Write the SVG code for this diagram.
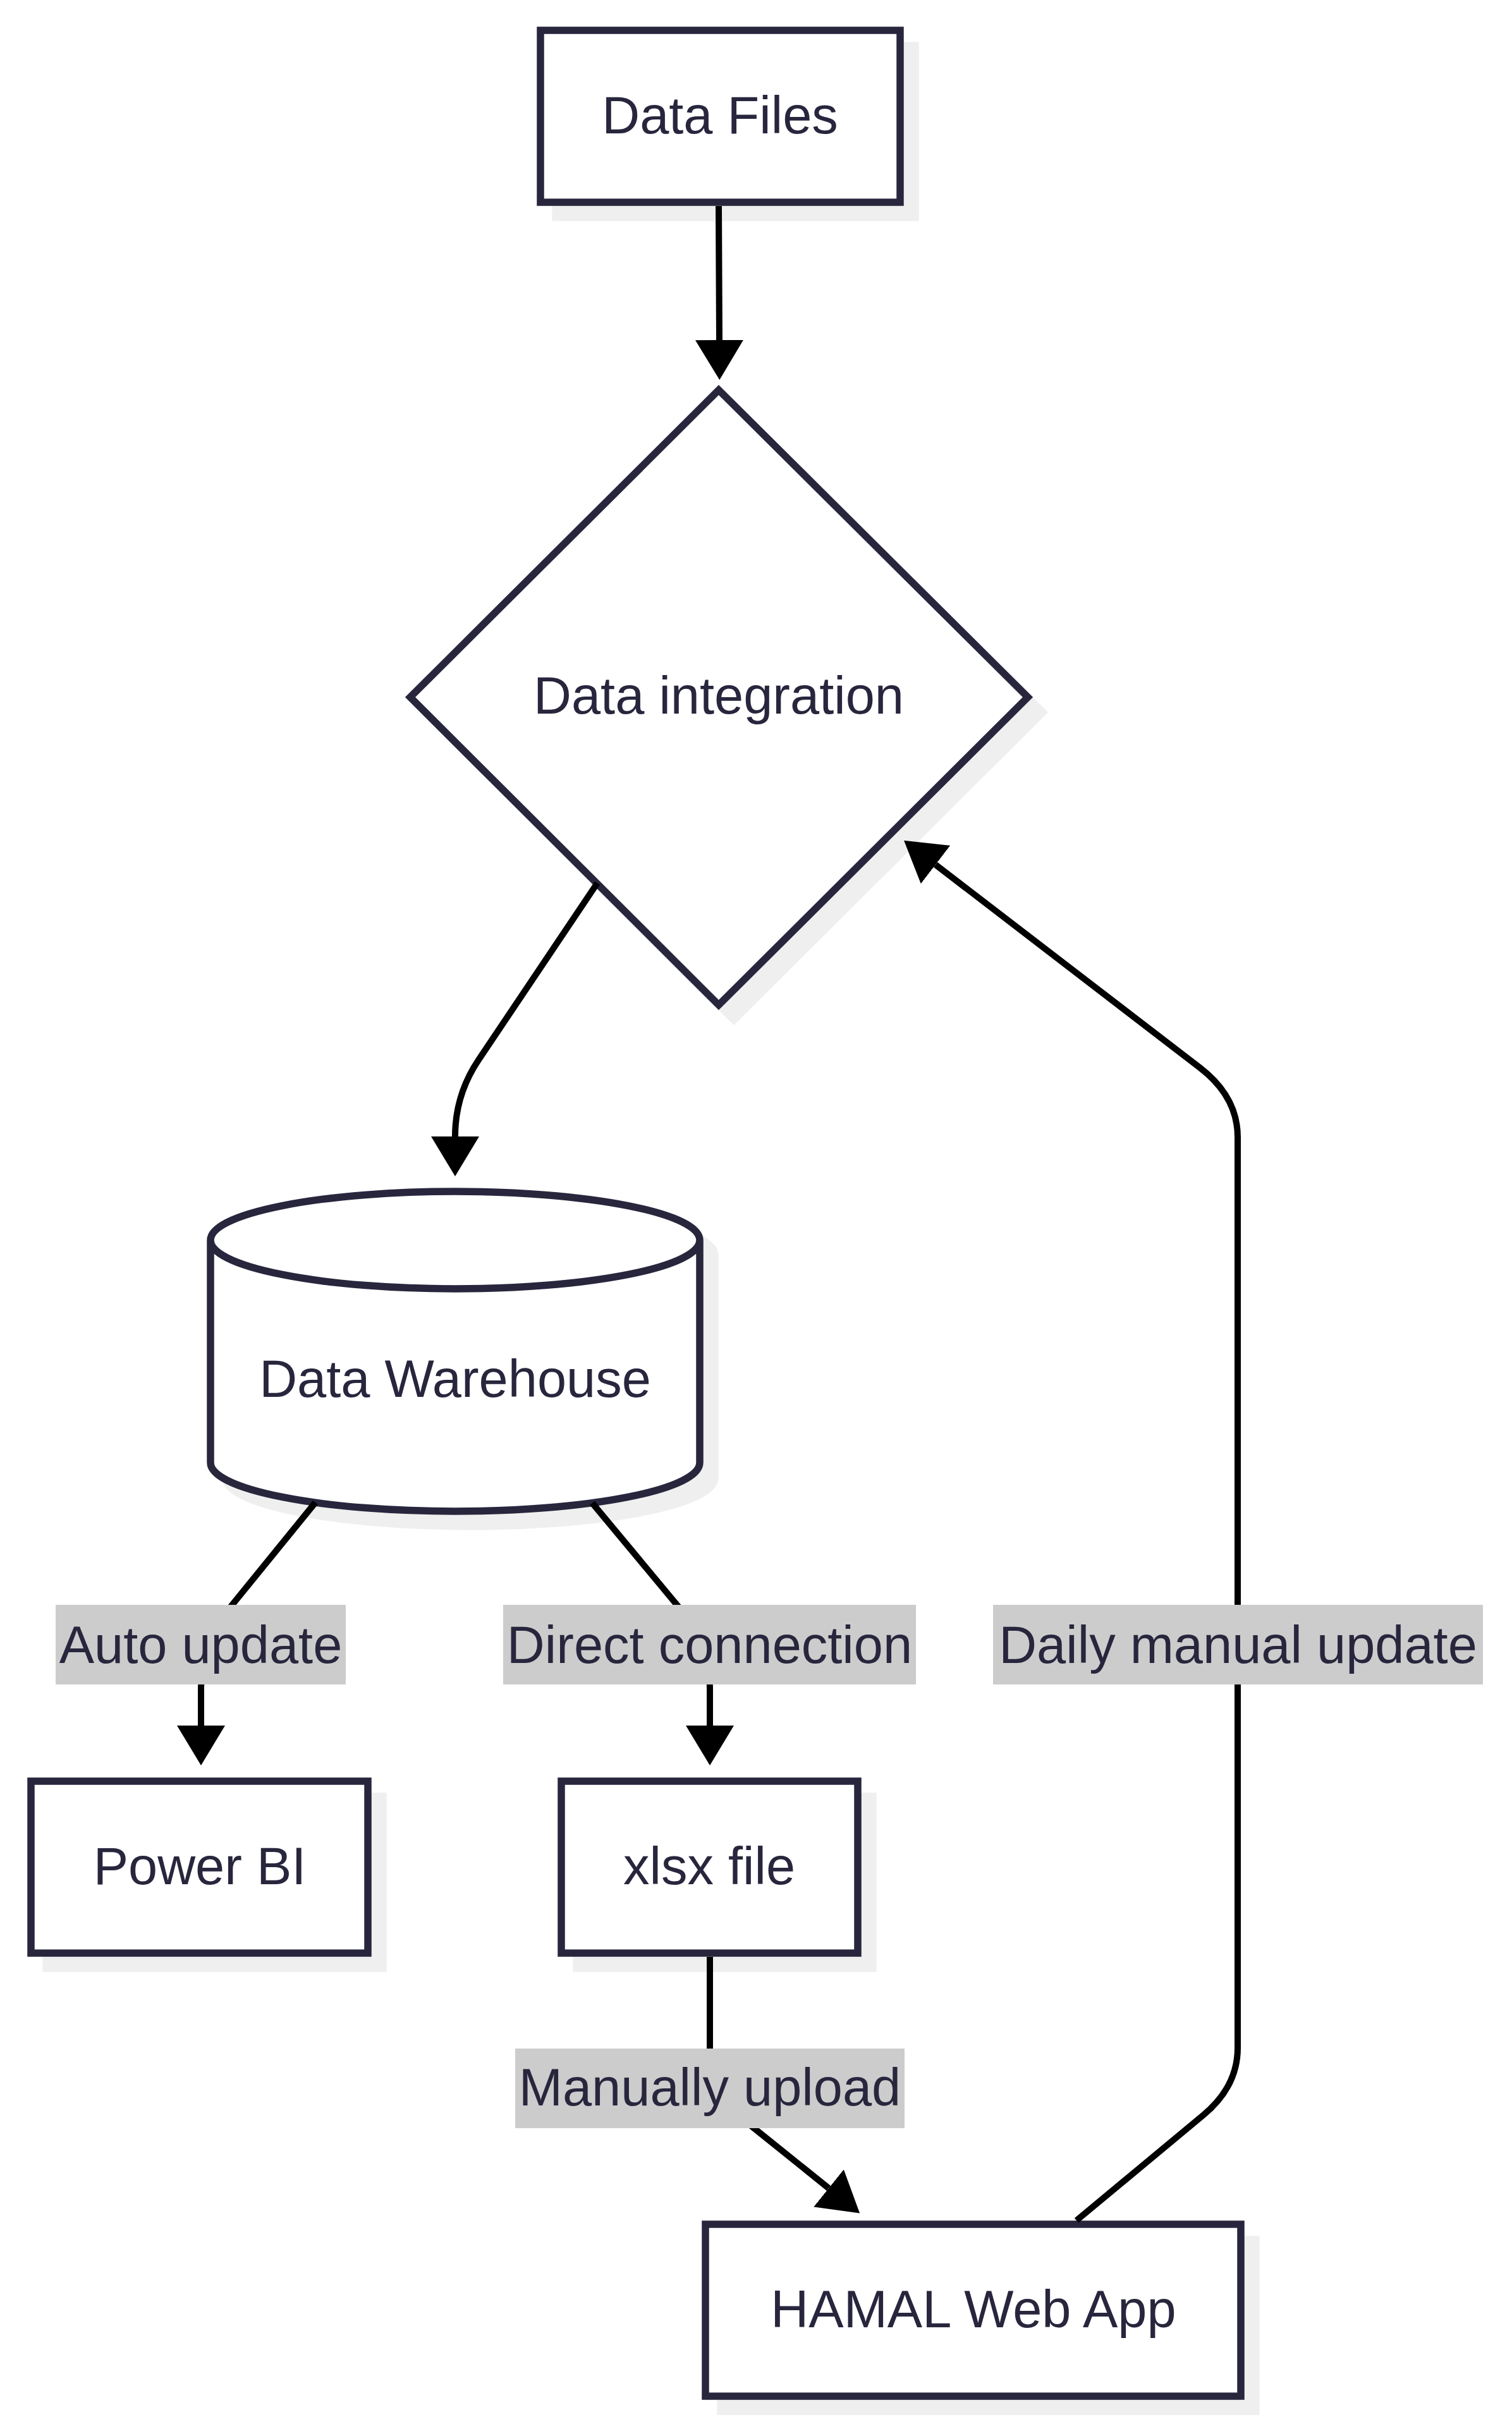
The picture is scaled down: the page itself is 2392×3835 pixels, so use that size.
<svg xmlns="http://www.w3.org/2000/svg" width="2392" height="3835" viewBox="0 0 2392 3835">
<style>
.shadow{fill:#efefef;stroke:#efefef;stroke-width:11.5}
.node{fill:#ffffff;stroke:#27263d;stroke-width:11.5}
.ntext{font-family:"Liberation Sans",Arial,Helvetica,sans-serif;font-size:83px;fill:#27263d;text-anchor:middle}
.edge{fill:none;stroke:#000000;stroke-width:10}
.lbg{fill:#cccccc}
</style>
<defs>
<marker id="arrow" viewBox="0 0 63 76" refX="0" refY="38" markerWidth="63" markerHeight="76" markerUnits="userSpaceOnUse" orient="auto">
<path d="M0,0 L63,38 L0,76 Z" fill="#000000"/>
</marker>
</defs>
<rect width="2392" height="3835" fill="#ffffff"/>

<g id="node-datafiles">
<rect class="shadow" x="879" y="72" width="569" height="272"/>
<rect class="node" x="855" y="48" width="569" height="272"/>
<text class="ntext" x="1139" y="211">Data Files</text>
</g>

<g id="node-integration">
<polygon class="shadow" points="1161,641 1650,1127 1161,1614 673,1127"/>
<polygon class="node" points="1137,617 1626,1103 1137,1590 649,1103"/>
<text class="ntext" x="1137" y="1129">Data integration</text>
</g>

<g id="node-warehouse">
<path class="shadow" d="M357,1986 a387,77 0 0,0 774,0 a387,77 0 0,0 -774,0 l0,352 a387,77 0 0,0 774,0 l0,-352"/>
<path class="node" d="M333,1962 a387,77 0 0,0 774,0 a387,77 0 0,0 -774,0 l0,352 a387,77 0 0,0 774,0 l0,-352"/>
<text class="ntext" x="720" y="2210">Data Warehouse</text>
</g>

<g id="node-powerbi">
<rect class="shadow" x="73" y="2842" width="533" height="272"/>
<rect class="node" x="49" y="2818" width="533" height="272"/>
<text class="ntext" x="316" y="2981">Power BI</text>
</g>

<g id="node-xlsx">
<rect class="shadow" x="912" y="2842" width="469" height="272"/>
<rect class="node" x="888" y="2818" width="469" height="272"/>
<text class="ntext" x="1122" y="2981">xlsx file</text>
</g>

<g id="node-hamal">
<rect class="shadow" x="1140" y="3543" width="847" height="272"/>
<rect class="node" x="1116" y="3519" width="847" height="272"/>
<text class="ntext" x="1540" y="3682">HAMAL Web App</text>
</g>

<g id="connectors">
<path class="edge" d="M1137,326 L1138,538" marker-end="url(#arrow)"/>
<path class="edge" d="M945,1397 L757,1677 Q720,1732 720,1798" marker-end="url(#arrow)"/>
<path class="edge" d="M499,2377 L360,2548 Q318,2600 318,2670 L318,2730" marker-end="url(#arrow)"/>
<path class="edge" d="M937,2378 L1080,2550 Q1123,2602 1123,2670 L1123,2730" marker-end="url(#arrow)"/>
<path class="edge" d="M1123,3096 L1123,3260 Q1123,3311 1163,3343 L1311,3462" marker-end="url(#arrow)"/>
<path class="edge" d="M1703,3513 L1904,3346 Q1958,3301 1958,3240 L1958,1799 Q1958,1735 1898,1689 L1480,1368" marker-end="url(#arrow)"/>
</g>

<g id="edge-labels">
<g id="label-auto">
<rect class="lbg" x="88" y="2539" width="459" height="126"/>
<text class="ntext" x="317.5" y="2631">Auto update</text>
</g>
<g id="label-direct">
<rect class="lbg" x="796" y="2539" width="653" height="126"/>
<text class="ntext" x="1122.5" y="2631">Direct connection</text>
</g>
<g id="label-daily">
<rect class="lbg" x="1571" y="2539" width="775" height="126"/>
<text class="ntext" x="1958.5" y="2631">Daily manual update</text>
</g>
<g id="label-manual">
<rect class="lbg" x="815" y="3241" width="616" height="126"/>
<text class="ntext" x="1123" y="3331">Manually upload</text>
</g>
</g>
</svg>
